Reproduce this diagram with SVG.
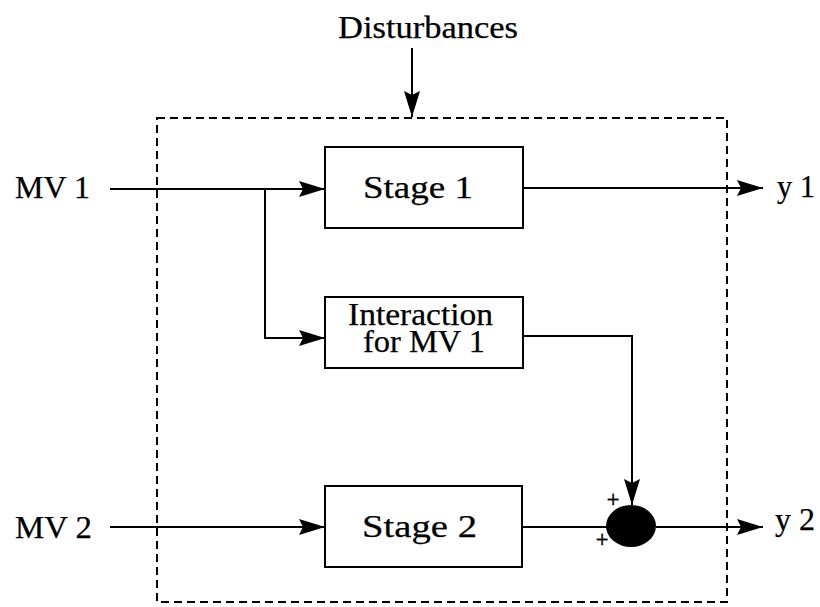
<svg xmlns="http://www.w3.org/2000/svg" width="820" height="607" viewBox="0 0 820 607">
<style>
text{font-family:"Liberation Serif","Times New Roman",serif;fill:#000;stroke:#000;stroke-width:0.25}
.lbl{font-size:31px}
.box{fill:#fff;stroke:#000;stroke-width:2}
.ln{fill:none;stroke:#000;stroke-width:2}
.pl{font-size:17px;font-family:"DejaVu Sans",sans-serif;stroke-width:0.3}
</style>
<defs>
<marker id="ah" markerUnits="userSpaceOnUse" markerWidth="28" markerHeight="18" refX="26" refY="9" orient="auto">
<path d="M0,1 L26,9 L0,17 L4,9 Z" fill="#000"/>
</marker>
</defs>
<rect id="boundary" x="157" y="118" width="570" height="484" fill="none" stroke="#000" stroke-width="2" stroke-dasharray="8,5"/>
<g id="connectors">
<line class="ln" x1="412" y1="48" x2="412" y2="117" marker-end="url(#ah)"/>
<line class="ln" x1="110" y1="189" x2="325" y2="189" marker-end="url(#ah)"/>
<polyline class="ln" points="265,189 265,338 325,338" marker-end="url(#ah)"/>
<line class="ln" x1="523" y1="188" x2="763" y2="188" marker-end="url(#ah)"/>
<polyline class="ln" points="523,336 632,336 632,505" marker-end="url(#ah)"/>
<line class="ln" x1="110" y1="527" x2="325" y2="527" marker-end="url(#ah)"/>
<line class="ln" x1="522" y1="527" x2="607" y2="527"/>
<line class="ln" x1="656" y1="527" x2="763" y2="527" marker-end="url(#ah)"/>
</g>
<g id="disturbances"><text class="lbl" x="338" y="38" textLength="180" lengthAdjust="spacingAndGlyphs">Disturbances</text></g>
<g id="mv1"><text class="lbl" x="15" y="198" textLength="75" lengthAdjust="spacingAndGlyphs">MV 1</text></g>
<g id="mv2"><text class="lbl" x="15" y="538" textLength="77" lengthAdjust="spacingAndGlyphs">MV 2</text></g>
<g id="y1"><text class="lbl" x="777" y="197" textLength="38" lengthAdjust="spacingAndGlyphs">y 1</text></g>
<g id="y2"><text class="lbl" x="775" y="530" textLength="40" lengthAdjust="spacingAndGlyphs">y 2</text></g>
<g id="stage1">
<rect class="box" x="325" y="147" width="198" height="81"/>
<text class="lbl" x="363" y="198" textLength="110" lengthAdjust="spacingAndGlyphs">Stage 1</text>
</g>
<g id="interaction">
<rect class="box" x="325" y="297" width="198" height="71"/>
<text class="lbl" x="348" y="325" font-size="29" textLength="145" lengthAdjust="spacingAndGlyphs">Interaction</text>
<text class="lbl" x="363" y="352" font-size="29" textLength="122" lengthAdjust="spacingAndGlyphs">for MV 1</text>
</g>
<g id="stage2">
<rect class="box" x="325" y="486" width="197" height="81"/>
<text class="lbl" x="362" y="537" textLength="115" lengthAdjust="spacingAndGlyphs">Stage 2</text>
</g>
<g id="sum">
<ellipse cx="631" cy="526" rx="25" ry="21" fill="#000"/>
<text class="pl" x="613" y="505" text-anchor="middle">+</text>
<text class="pl" x="602" y="545" text-anchor="middle">+</text>
</g>
</svg>
